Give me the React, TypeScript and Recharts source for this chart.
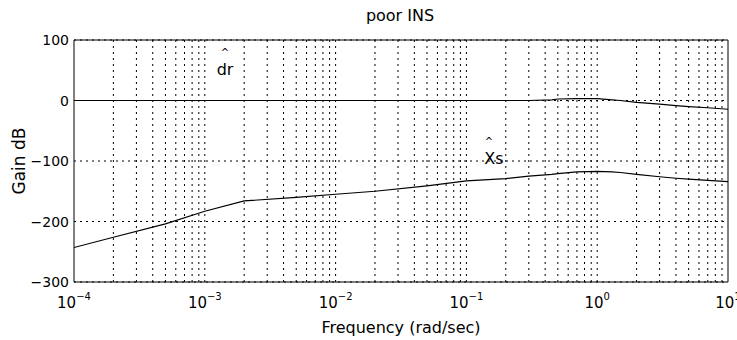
import { LineChart, Line, XAxis, YAxis, CartesianGrid, ReferenceLine } from "recharts";

// frequency (rad/sec) and gain (dB)
const freqs = [1e-4, 2e-4, 5e-4, 1e-3, 2e-3, 5e-3, 1e-2, 2e-2, 5e-2, 0.1, 0.2, 0.3, 0.45, 0.5, 0.7, 1, 1.3, 1.5, 2, 3, 4, 5, 7, 10];
const xsGain = [-243, -226, -204, -183, -166, -160, -155, -150, -141, -133, -129, -125, -122, -121, -118, -117, -118, -119, -122, -126, -128.5, -130, -132, -134];
const drGain = [0, 0, 0, 0, 0, 0, 0, 0, 0, 0, 0, 0, 1, 2.5, 3, 3, 1, 0, -3, -6, -8.5, -10, -12, -14.5];

const xTicks = [1e-4, 1e-3, 1e-2, 1e-1, 1, 10];
const xTickExps = ["−4", "−3", "−2", "−1", "0", "1"];
const yTicks = [-300, -200, -100, 0, 100];
const minorGrid = [
  2e-4, 3e-4, 4e-4, 5e-4, 6e-4, 7e-4, 8e-4, 9e-4, 1e-3,
  2e-3, 3e-3, 4e-3, 5e-3, 6e-3, 7e-3, 8e-3, 9e-3, 1e-2,
  2e-2, 3e-2, 4e-2, 5e-2, 6e-2, 7e-2, 8e-2, 9e-2, 0.1,
  0.2, 0.3, 0.4, 0.5, 0.6, 0.7, 0.8, 0.9, 1,
  2, 3, 4, 5, 6, 7, 8, 9,
];

const data = freqs.map((f, i) => ({ f, xs: xsGain[i], dr: drGain[i] }));
const font = "'DejaVu Sans', sans-serif";
const dots = "2 4";

const XTick = ({ x, payload }: any) => {
  const i = xTicks.indexOf(payload.value);
  return (
    <text x={x} y={308} textAnchor="middle" fontSize={15} fontFamily={font} fill="#000">
      <tspan>10</tspan>
      <tspan dy={-8} fontSize={10}>{xTickExps[i]}</tspan>
    </text>
  );
};

const YTick = ({ y, payload }: any) => (
  <text x={69} y={y + 5} textAnchor="end" fontSize={14} fontFamily={font} fill="#000">
    {String(payload.value).replace("-", "−")}
  </text>
);

export default function App() {
  return (
    <div style={{ position: "absolute", left: 0, top: 0, width: 737, height: 340, background: "#fff" }}>
      <LineChart width={737} height={340} data={data} margin={{ top: 40, right: 9, bottom: 0, left: 0 }}>
        <CartesianGrid vertical={false} stroke="#000" strokeDasharray={dots} />
        {minorGrid.map((g) => (
          <ReferenceLine key={g} x={g} stroke="#000" strokeDasharray={dots} />
        ))}
        <XAxis
          dataKey="f"
          type="number"
          scale="log"
          domain={[1e-4, 10]}
          ticks={xTicks}
          allowDataOverflow
          height={58}
          axisLine={{ stroke: "#000" }}
          tickLine={false}
          tick={<XTick />}
          label={{
            content: (p: any) => (
              <text x={p.viewBox.x + p.viewBox.width / 2} y={333} textAnchor="middle" fontSize={16} fontFamily={font} fill="#000">
                Frequency (rad/sec)
              </text>
            ),
          }}
        />
        <YAxis
          type="number"
          domain={[-300, 100]}
          ticks={yTicks}
          width={74}
          axisLine={{ stroke: "#000" }}
          tickLine={false}
          tick={<YTick />}
          label={{
            content: () => (
              <text x={25} y={161} transform="rotate(-90 25 161)" textAnchor="middle" fontSize={17} fontFamily={font} fill="#000">
                Gain dB
              </text>
            ),
          }}
        />
        <ReferenceLine y={100} stroke="#000" />
        <ReferenceLine x={10} stroke="#000" />
        <Line dataKey="dr" type="linear" stroke="#000" strokeWidth={1.2} dot={false} isAnimationActive={false} />
        <Line dataKey="xs" type="linear" stroke="#000" strokeWidth={1.2} dot={false} isAnimationActive={false} />
      </LineChart>
      <svg width={737} height={340} style={{ position: "absolute", left: 0, top: 0, pointerEvents: "none" }}>
        <text x={400} y={21} textAnchor="middle" fontSize={16} fontFamily={font} fill="#000">poor INS</text>
        <text x={225} y={56} textAnchor="middle" fontSize={10} fontFamily={font} fill="#000">^</text>
        <text x={225} y={75} textAnchor="middle" fontSize={16} fontFamily={font} fill="#000">dr</text>
        <text x={489} y={145} textAnchor="middle" fontSize={10} fontFamily={font} fill="#000">^</text>
        <text x={494} y={164} textAnchor="middle" fontSize={16} fontFamily={font} fill="#000">Xs</text>
      </svg>
    </div>
  );
}
